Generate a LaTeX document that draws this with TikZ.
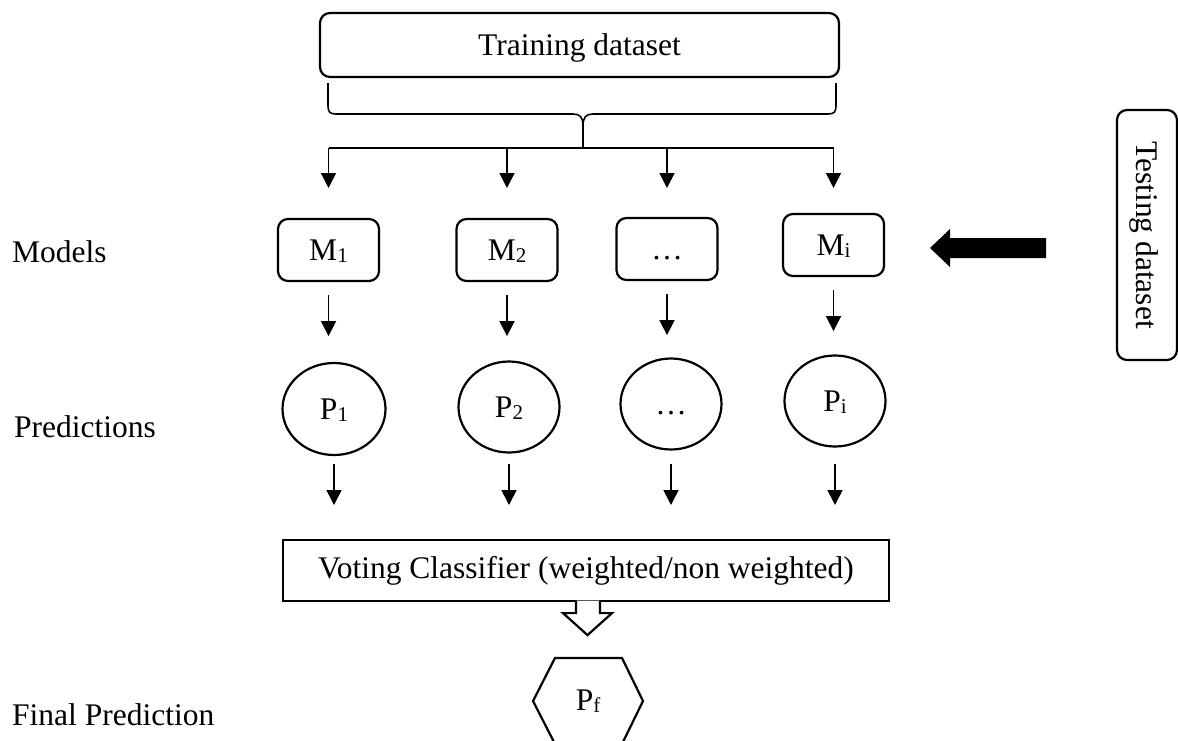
\documentclass[tikz,border=0pt]{standalone}
\usepackage{fontspec}
\setmainfont{Liberation Serif}
\usetikzlibrary{arrows.meta,shapes.geometric,calc}
\newcommand{\sbs}[1]{\raisebox{-1.5pt}{\fontsize{21}{21}\selectfont #1}}
\begin{document}
\begin{tikzpicture}[x=1pt,y=-1pt,
  every node/.style={font=\fontsize{31.5}{36}\selectfont, inner sep=0pt},
  rbox/.style={draw, line width=2.2pt, rounded corners=10pt, minimum width=101pt, minimum height=62pt, text height=21pt, text depth=0pt},
  pell/.style={draw, line width=2.2pt, ellipse, minimum width=101pt, minimum height=91pt, text height=21pt, text depth=0pt},
  arr/.style={line width=1.6pt, -{Triangle[length=15pt,width=15pt]}},
  thinline/.style={line width=1.6pt},
  lbl/.style={anchor=base west}]
\useasboundingbox (0,0) rectangle (1178,740);
\clip (0,0) rectangle (1178,740);

% top box
\node[rbox, minimum width=519pt, minimum height=64pt] (T) at (579.5,45) {Training dataset};

% brace
\coordinate (bus) at (583,148);
\draw[thinline] (328,83) -- (328,106) .. controls (328,112) and (330,114) .. (336,114) -- (573,114)
  .. controls (580,114) and (583,117) .. (583,126) -- (bus);
\draw[thinline] (836,83) -- (836,106) .. controls (836,112) and (834,114) .. (828,114) -- (593,114)
  .. controls (586,114) and (583,117) .. (583,126);

% models
\node[rbox] (M1) at (328.5,250) {M\sbs{1}};
\node[rbox] (M2) at (507,250) {M\sbs{2}};
\node[rbox] (M3) at (667,249) {…};
\node[rbox] (Mi) at (833.5,245) {M\sbs{i}};

% predictions
\node[pell, minimum width=103pt, minimum height=92pt] (P1) at (334,409) {P\sbs{1}};
\node[pell] (P2) at (509,407) {P\sbs{2}};
\node[pell] (P3) at (671,404) {…};
\node[pell] (Pi) at (835,401) {P\sbs{i}};

% bus and arrows to models
\draw[thinline] (M1 |- bus) -- (Mi |- bus);
\coordinate (bt) at (0,188);
\foreach \n in {M1,M2,M3,Mi} \draw[arr] (\n |- bus) -- (\n |- bt);

% models -> predictions
\foreach \n in {M1,M2,M3,Mi} \draw[arr] ([yshift=-13pt]\n.south) -- ([yshift=-54pt]\n.south);

% voting box
\node[draw, line width=2.2pt, minimum width=606pt, minimum height=61pt] (V) at (586,570.5) {Voting Classifier (weighted/non weighted)};

% predictions -> voting
\coordinate (pa) at (0,464);
\coordinate (pb) at (0,505);
\foreach \n in {P1,P2,P3,Pi} \draw[arr] (\n |- pa) -- (\n |- pb);

% hollow block arrow
\draw[line width=2.2pt, fill=white, line join=miter] ([xshift=-10pt,yshift=1.6pt]V.south) -- ++(0,12.6) -- ++(-13,0)
  -- ++(24.5,22) -- ++(24.5,-22) -- ++(-12,0) -- ++(0,-12.6);

% final prediction hexagon
\node (Pf) at (588,701) {P\sbs{f}};
\draw[line width=2.2pt, line join=miter] (Pf) ++(-33,-43) -- ++(67,0) -- ++(21,43) -- ++(-21,43) -- ++(-67,0) -- ++(-22,-43) -- cycle;

% testing dataset
\node[rbox, rotate=-90, minimum width=250pt, minimum height=60pt] (Te) at (1147,235) {Testing dataset};
\fill (930,248) -- (950,229) -- (950,238) -- (1046,238) -- (1046,258) -- (950,258) -- (950,267) -- cycle;

% row labels
\node[lbl] (Lm) at (12,262) {Models};
\node[lbl] (Lp) at (14,437) {Predictions};
\node[lbl] (Lf) at (12,725) {Final Prediction};
\end{tikzpicture}
\end{document}
